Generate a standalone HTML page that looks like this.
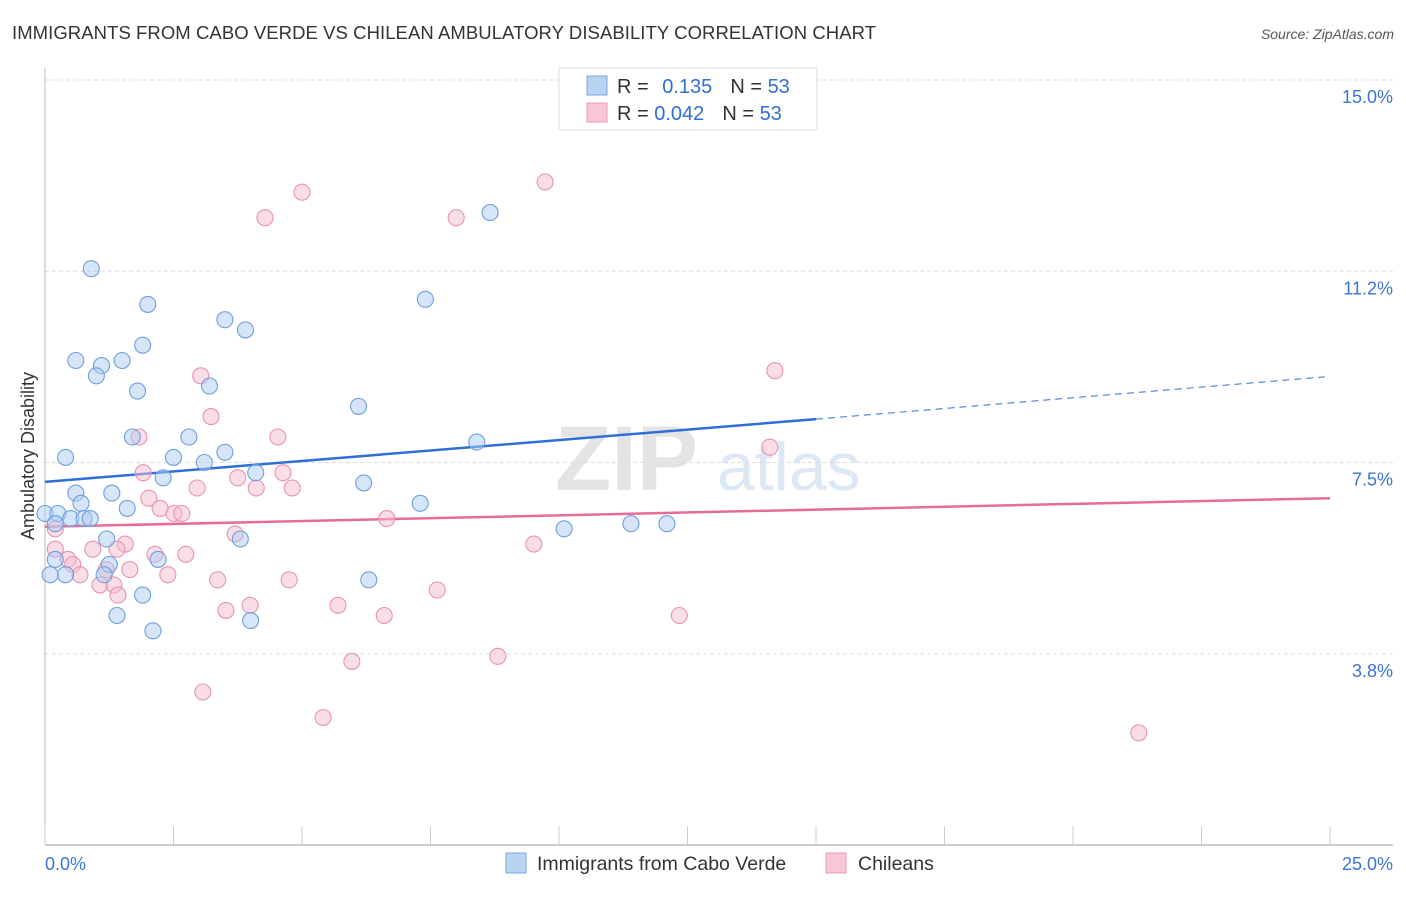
<!DOCTYPE html>
<html><head><meta charset="utf-8">
<style>
body{margin:0;background:#fff;font-family:"Liberation Sans",sans-serif;}
svg text{font-family:"Liberation Sans",sans-serif;}
</style></head>
<body>
<svg id="chart" width="1406" height="892" xmlns="http://www.w3.org/2000/svg">
<text x="12" y="39" font-size="18.5" fill="#333" textLength="864">IMMIGRANTS FROM CABO VERDE VS CHILEAN AMBULATORY DISABILITY CORRELATION CHART</text>
<text x="1394" y="39" font-size="14" fill="#555" text-anchor="end" font-style="italic">Source: ZipAtlas.com</text>
<text x="555" y="490" font-size="92" fill="#e4e4e4" font-family="Liberation Serif" font-weight="bold">ZIP</text>
<text x="717" y="490" font-size="68" fill="#dce8f6">atlas</text>
<g id="grid"></g><g id="axes"></g><g id="lines"></g><g id="pts"></g>
<text transform="translate(34,456) rotate(-90)" font-size="18" fill="#333" text-anchor="middle">Ambulatory Disability</text>
<g>
<rect x="559" y="68" width="258" height="62" fill="#fff" stroke="#ddd"/>
<rect x="587" y="76" width="20" height="19" fill="#b9d3f3" stroke="#7aa6de"/>
<rect x="587" y="103" width="20" height="19" fill="#f8c6d6" stroke="#eb9ab6"/>
<text x="617" y="93" font-size="20" fill="#333">R = <tspan fill="#2f6fd4" dx="8">0.135</tspan><tspan fill="#333" dx="18">N = </tspan><tspan fill="#2f6fd4">53</tspan></text>
<text x="617" y="120" font-size="20" fill="#333">R = <tspan fill="#2f6fd4">0.042</tspan><tspan fill="#333" dx="18">N = </tspan><tspan fill="#2f6fd4">53</tspan></text>
</g>
<g>
<rect x="506" y="853" width="20" height="20" fill="#b9d3f3" stroke="#7aa6de"/>
<text x="537" y="870" font-size="19.5" fill="#333">Immigrants from Cabo Verde</text>
<rect x="826" y="853" width="20" height="20" fill="#f8c6d6" stroke="#eb9ab6"/>
<text x="858" y="870" font-size="19.5" fill="#333">Chileans</text>
</g>
</svg>
<script>
const yTicks=[15.0,11.25,7.5,3.75];
const yTickLabels=["15.0%","11.2%","7.5%","3.8%"];
const xTickVals=[0,2.5,5,7.5,10,12.5,15,17.5,20,22.5,25];
const blueX=[8.66,0.9,2.0,7.4,3.5,3.9,1.9,0.6,1.1,1.5,1.0,3.2,1.8,6.1,1.7,2.8,8.4,0.4,2.5,3.5,3.1,2.3,4.1,6.2,0.6,1.3,0.7,1.6,7.3,0.0,0.25,0.5,0.76,0.88,0.2,10.1,11.4,12.1,1.2,3.8,0.2,2.2,1.25,0.4,1.15,0.1,6.3,1.9,1.4,4.0,2.1];
const blueY=[12.4,11.3,10.6,10.7,10.3,10.1,9.8,9.5,9.4,9.5,9.2,9.0,8.9,8.6,8.0,8.0,7.9,7.6,7.6,7.7,7.5,7.2,7.3,7.1,6.9,6.9,6.7,6.6,6.7,6.5,6.5,6.4,6.4,6.4,6.3,6.2,6.3,6.3,6.0,6.0,5.6,5.6,5.5,5.3,5.3,5.3,5.2,4.9,4.5,4.4,4.2];
const pinkX=[9.73,5.0,4.28,8.0,14.2,3.03,3.23,1.83,4.53,14.1,1.91,3.75,4.63,2.96,4.11,4.81,2.02,2.24,2.51,2.66,6.65,3.7,9.51,1.56,0.93,1.4,2.74,2.14,0.45,0.54,1.19,1.65,0.68,2.39,3.36,4.75,1.07,1.34,7.63,1.42,5.7,3.99,3.52,6.6,12.34,8.81,5.97,3.07,5.41,21.28,0.2,0.2];
const pinkY=[13.0,12.8,12.3,12.3,9.3,9.2,8.4,8.0,8.0,7.8,7.3,7.2,7.3,7.0,7.0,7.0,6.8,6.6,6.5,6.5,6.4,6.1,5.9,5.9,5.8,5.8,5.7,5.7,5.6,5.5,5.4,5.4,5.3,5.3,5.2,5.2,5.1,5.1,5.0,4.9,4.7,4.7,4.6,4.5,4.5,3.7,3.6,3.0,2.5,2.2,5.8,6.2];
const blueFit=[7.12,8.35,9.18]; // at x=0, 15, 24.9
const pinkFit=[6.24,6.8];
const NS="http://www.w3.org/2000/svg";
const X=v=>45+v/25*1285, Y=v=>845-v/15*765;
function mk(tag,attrs,parent){const e=document.createElementNS(NS,tag);for(const k in attrs)e.setAttribute(k,attrs[k]);parent.appendChild(e);return e;}
const grid=document.getElementById('grid'),axes=document.getElementById('axes'),lines=document.getElementById('lines'),pts=document.getElementById('pts');
yTicks.forEach((t,i)=>{
 const l=mk('line',{x1:45,x2:1393,y1:Y(t),y2:Y(t),stroke:'#ddd','stroke-dasharray':'4,3'},grid);
 
 
 const tx=mk('text',{x:1393,y:Y(t)+23,'font-size':18,fill:'#3a75d4','text-anchor':'end'},axes);
 tx.textContent=yTickLabels[i];
 
 
});
const ya=mk('line',{x1:45,x2:45,y1:68,y2:845,stroke:'#bbb'},axes);


const xa=mk('line',{x1:45,x2:1393,y1:845,y2:845,stroke:'#bbb','stroke-width':1.5},axes);


xTickVals.forEach(v=>{
 const t=mk('line',{x1:X(v),x2:X(v),y1:826,y2:845,stroke:'#ccc'},axes);
 
 
});
[[0,"0.0%",'start',45],[25,"25.0%",'end',1393]].forEach(a=>{
 const t=mk('text',{x:a[3],y:870,'font-size':18,fill:'#3a75d4','text-anchor':a[2]},axes);
 t.textContent=a[1];
 
 
});
function dots(xs,ys,fill,stroke,name){xs.forEach((x,i)=>{
 const c=mk('circle',{cx:X(x),cy:Y(ys[i]),r:8,fill:fill,'fill-opacity':0.5,stroke:stroke,'stroke-width':1.1},pts);
 
 
});}
dots(pinkX,pinkY,'#f6bdd0','#e892b0','chileans-point');
dots(blueX,blueY,'#aecbf1','#6e9fdc','cabo-verde-point');
const b1=mk('line',{x1:X(0),y1:Y(blueFit[0]),x2:X(15),y2:Y(blueFit[1]),stroke:'#2f6fd4','stroke-width':2.5},lines);


const b2=mk('line',{x1:X(15),y1:Y(blueFit[1]),x2:X(24.9),y2:Y(blueFit[2]),stroke:'#2f6fd4','stroke-width':1,'stroke-dasharray':'7,5'},lines);


const p1=mk('line',{x1:X(0),y1:Y(pinkFit[0]),x2:X(25),y2:Y(pinkFit[1]),stroke:'#e86a98','stroke-width':2.5},lines);


</script>
</body></html>
